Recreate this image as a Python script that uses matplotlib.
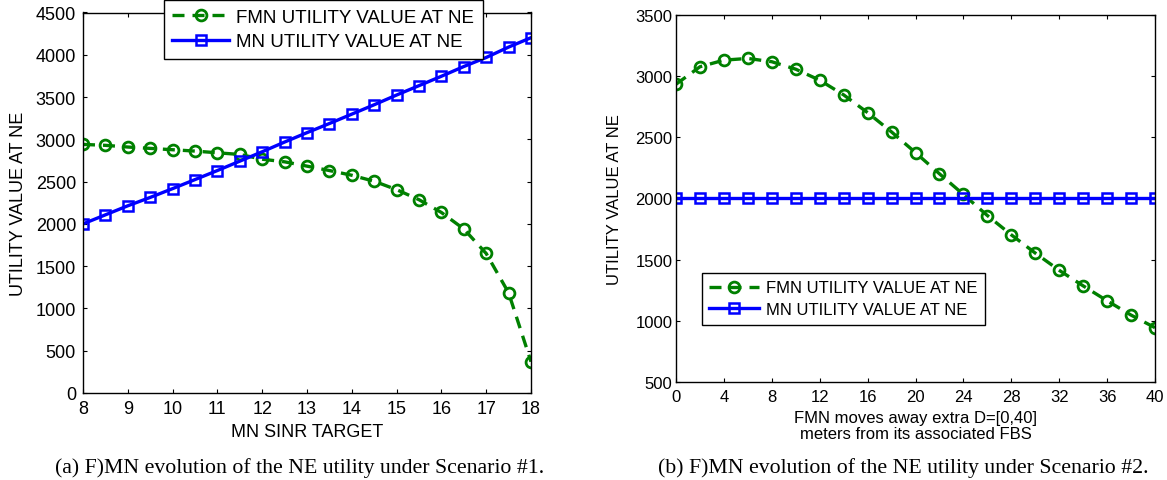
import matplotlib
matplotlib.use("Agg")
import matplotlib.pyplot as plt

# ---------------- data ----------------
sinr_target = [8, 8.5, 9, 9.5, 10, 10.5, 11, 11.5, 12, 12.5, 13, 13.5, 14,
               14.5, 15, 15.5, 16, 16.5, 17, 17.5, 18]
fmn_utility_1 = [2940, 2929, 2909, 2893, 2877, 2861, 2841, 2821, 2765, 2734,
                 2683, 2631, 2575, 2504, 2405, 2286, 2135, 1940, 1650, 1185, 370]
mn_utility_1 = [2000, 2107, 2214, 2313, 2417, 2524, 2631, 2742, 2853, 2968,
                3079, 3187, 3298, 3409, 3524, 3635, 3746, 3861, 3968, 4091, 4202]

distance = [0, 2, 4, 6, 8, 10, 12, 14, 16, 18, 20, 22, 24, 26, 28, 30, 32,
            34, 36, 38, 40]
fmn_utility_2 = [2934, 3077, 3131, 3145, 3118, 3057, 2967, 2847, 2702, 2544,
                 2375, 2202, 2033, 1861, 1703, 1554, 1413, 1286, 1164, 1047, 944]
mn_utility_2 = [2005] * 21

x_ticks_1 = list(range(8, 19))
y_ticks_1 = list(range(0, 4501, 500))
x_ticks_2 = list(range(0, 41, 4))
y_ticks_2 = list(range(500, 3501, 500))

label_fmn = "FMN UTILITY VALUE AT NE"
label_mn = "MN UTILITY VALUE AT NE"
ylabel = "UTILITY VALUE AT NE"
xlabel_1 = "MN SINR TARGET"
xlabel_2 = "FMN moves away extra D=[0,40]\nmeters from its associated FBS"
caption_1 = "(a) F)MN evolution of the NE utility under Scenario #1."
caption_2 = "(b) F)MN evolution of the NE utility under Scenario #2."

# ---------------- style ----------------
plt.rcParams['font.family'] = ['Liberation Sans', 'DejaVu Sans']
GREEN = (0, 0.5, 0)
BLUE = (0, 0, 1)
W, H = 1167, 481

fig = plt.figure(figsize=(W / 100, H / 100), dpi=100)


def px_axes(x0, y0, x1, y1):
    return fig.add_axes([x0 / W, 1 - y1 / H, (x1 - x0) / W, (y1 - y0) / H])


def draw(ax, x, fmn, mn, fs_tick):
    ax.plot(x, fmn, color=GREEN, lw=2.4, dashes=(3.6, 2.4), marker='o',
            markersize=7.8, mfc='none', mec=GREEN, mew=2.0, label=label_fmn)
    ax.plot(x, mn, color=BLUE, lw=2.4, marker='s', markersize=7.0,
            mfc='none', mec=BLUE, mew=1.8, label=label_mn)
    for s in ax.spines.values():
        s.set_linewidth(1.0)
    ax.tick_params(direction='in', top=True, right=True, length=3,
                   width=0.8, labelsize=fs_tick)


def make_legend(ax, x0, y0, fs):
    leg = ax.legend(loc='upper left', bbox_to_anchor=(x0 / W, 1 - y0 / H),
                    bbox_transform=fig.transFigure, fontsize=fs,
                    handlelength=3.0, handletextpad=0.4, borderpad=0.45,
                    labelspacing=0.4, borderaxespad=0, fancybox=False,
                    framealpha=1, edgecolor='black')
    leg.get_frame().set_linewidth(1.0)
    return leg


# ---- left ----
ax1 = px_axes(83, 13.5, 531, 394)
draw(ax1, sinr_target, fmn_utility_1, mn_utility_1, 13)
ax1.set_xlim(8, 18)
ax1.set_ylim(0, 4500)
ax1.set_xticks(x_ticks_1)
ax1.set_yticks(y_ticks_1)
ax1.tick_params(axis='x', pad=5)
ax1.tick_params(axis='y', pad=5)
ax1.set_xlabel(xlabel_1, fontsize=13)
ax1.xaxis.set_label_coords(0.5, -0.078)
ax1.set_ylabel(ylabel, fontsize=13)
ax1.yaxis.set_label_coords(-0.125, 0.5)
make_legend(ax1, 164, 1, 13.5)

# ---- right ----
ax2 = px_axes(676, 16, 1155, 383)
draw(ax2, distance, fmn_utility_2, mn_utility_2, 12)
ax2.set_xlim(0, 40)
ax2.set_ylim(500, 3500)
ax2.set_xticks(x_ticks_2)
ax2.set_yticks(y_ticks_2)
ax2.tick_params(axis='x', pad=5)
ax2.tick_params(axis='y', pad=2.5)
ax2.set_xlabel(xlabel_2, fontsize=12, linespacing=1.1)
ax2.xaxis.set_label_coords(0.5, -0.075)
ax2.set_ylabel(ylabel, fontsize=12)
ax2.yaxis.set_label_coords(-0.112, 0.5)
make_legend(ax2, 702, 274, 12)

# ---- captions ----
fig.text(300 / W, 1 - 468 / H, caption_1, family='Liberation Serif',
         fontsize=15.7, ha='center', va='center')
fig.text(903 / W, 1 - 468 / H, caption_2, family='Liberation Serif',
         fontsize=15.7, ha='center', va='center')

fig.savefig("out.png", dpi=100)
